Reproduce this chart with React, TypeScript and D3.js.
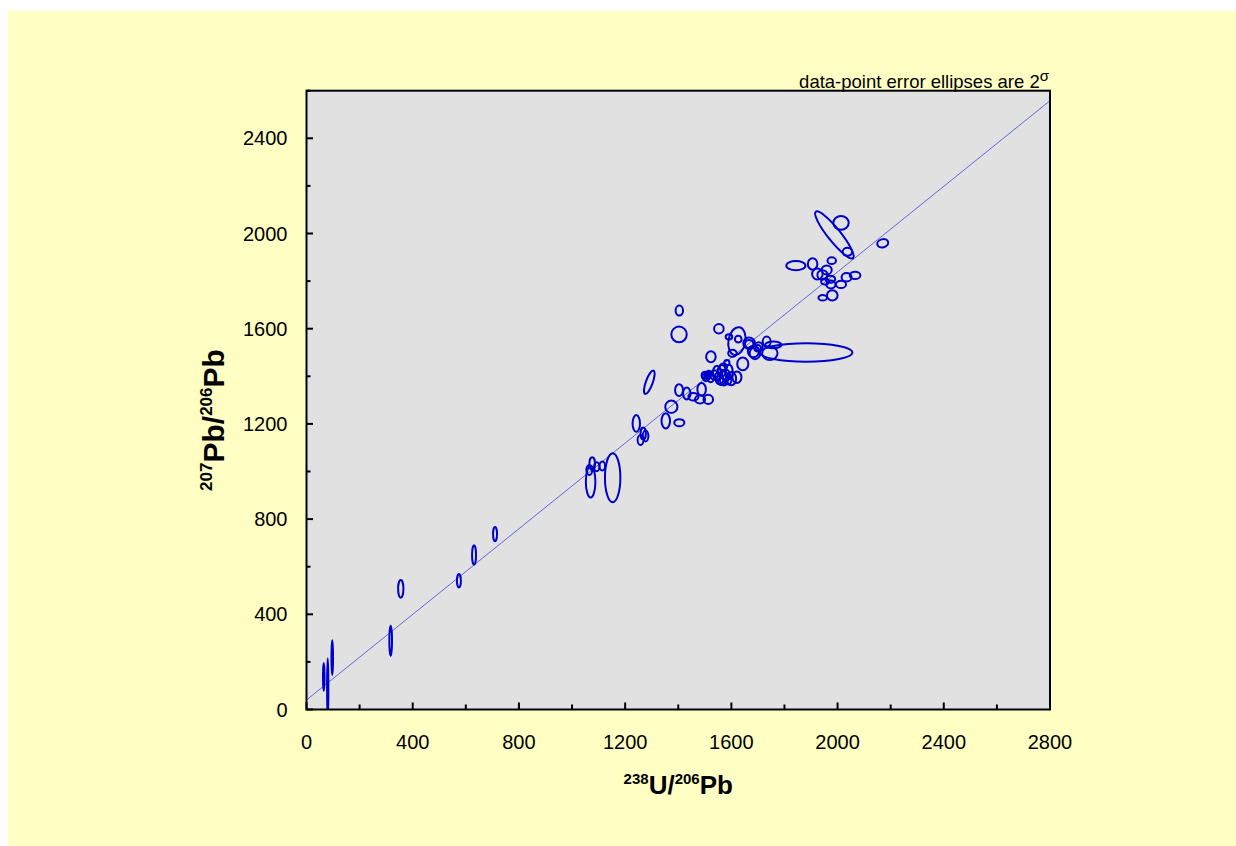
import React, { useEffect } from "react";
import * as d3 from "d3";

// axis ranges and ticks
const xDomain = [0, 2800];
const yDomain = [0, 2600];
const xTickValues = d3.range(0, 2801, 200);
const yTickValues = d3.range(0, 2601, 200);

// reference line (data units)
const refLine: [number, number][] = [
  [0, 40],
  [2800, 2558],
];

// error ellipses: [x, y, rx, ry, tilt deg]
const ellipses: [number, number, number, number, number][] = [
  [65, 137, 3, 58, 0],
  [80, 90, 2.5, 125, 0],
  [97, 218, 3, 73, 0],
  [317, 289, 5, 63, 0],
  [355, 507, 10, 37, 0],
  [574, 541, 7.5, 28, 0],
  [631, 649, 7.5, 41, 0],
  [710, 737, 7.5, 30, 0],
  [1153, 974, 29, 103, 0],
  [1070, 957, 18, 66, 0],
  [1076, 1034, 10.5, 26, 0],
  [1065, 1006, 11, 21, 0],
  [1093, 1020, 10, 19, 0],
  [1114, 1023, 10.5, 19, 0],
  [1242, 1202, 14, 35, 0],
  [1268, 1160, 10, 25, 0],
  [1258, 1132, 11, 21, 0],
  [1277, 1149, 10.5, 23, 0],
  [1353, 1213, 16, 32, 0],
  [1374, 1272, 23, 26, 0],
  [1404, 1205, 19, 15, 0],
  [1291, 1375, 13, 52, 20],
  [1404, 1676, 14, 21, 0],
  [1403, 1576, 29, 33, 0],
  [1553, 1600, 18, 20, 0],
  [1621, 1548, 32, 59, 10],
  [1626, 1556, 12.5, 14, 0],
  [1591, 1566, 12.5, 11, 0],
  [1604, 1497, 16, 15, 0],
  [1523, 1482, 18, 23, 0],
  [1643, 1452, 21, 27, 0],
  [1621, 1396, 17, 24, 0],
  [1505, 1398, 13, 19, 0],
  [1522, 1397, 13, 22, 0],
  [1545, 1413, 15, 31, 0],
  [1564, 1423, 15, 25, 0],
  [1572, 1392, 16, 31, 0],
  [1591, 1419, 14, 31, 0],
  [1600, 1390, 18, 28, 0],
  [1570, 1440, 14, 14, 0],
  [1583, 1457, 10, 12, 0],
  [1535, 1405, 14, 20, 0],
  [1555, 1385, 14, 18, 0],
  [1580, 1405, 15, 22, 0],
  [1500, 1405, 12, 14, 0],
  [1510, 1400, 10, 12, 0],
  [1497, 1400, 8, 10, 0],
  [1515, 1410, 9, 13, 0],
  [1550, 1400, 11, 16, 0],
  [1562, 1378, 12, 15, 0],
  [1588, 1382, 12, 16, 0],
  [1403, 1342, 15, 25, 0],
  [1432, 1328, 14, 25, 0],
  [1457, 1314, 19, 16, 0],
  [1482, 1303, 19, 17, 0],
  [1513, 1303, 18, 19, 0],
  [1488, 1345, 16, 27, 0],
  [1667, 1539, 22, 24, 0],
  [1689, 1497, 20, 25, 0],
  [1703, 1525, 15, 18, 0],
  [1733, 1546, 15, 21, 0],
  [1758, 1532, 31, 14, 0],
  [1745, 1497, 29, 28, 0],
  [1882, 1500, 174, 39, 0],
  [1667, 1536, 16, 17, 0],
  [1683, 1504, 21, 24, 0],
  [1699, 1518, 13, 14, 0],
  [1988, 1994, 24, 125, -38.7],
  [2013, 2045, 29, 29, 0],
  [2037, 1923, 18, 17, 0],
  [2170, 1959, 21, 17, -15],
  [1978, 1886, 16, 14, 0],
  [1843, 1865, 36, 19, 0],
  [1906, 1872, 18, 24, 0],
  [1924, 1830, 20, 23, 0],
  [1959, 1847, 19, 19, 0],
  [1943, 1826, 19, 20, 0],
  [1973, 1808, 18, 15, 0],
  [1953, 1798, 15, 13, 0],
  [1975, 1786, 17, 17, 0],
  [2013, 1786, 19, 15, 0],
  [2034, 1816, 19, 18, 0],
  [2066, 1824, 20, 15, 0],
  [1944, 1730, 16, 12, 0],
  [1980, 1740, 20, 22, 0],
];

const W = 1260;
const H = 870;
const plot = { left: 306.5, right: 1050, top: 90.7, bottom: 709.5 };
const font = "Arial, 'Liberation Sans', sans-serif";

const App = () => {
  useEffect(() => {
    document.documentElement.style.overflow = "hidden";
    document.body.style.overflow = "hidden";
  }, []);

  const x = d3.scaleLinear().domain(xDomain).range([plot.left, plot.right]);
  const y = d3.scaleLinear().domain(yDomain).range([plot.bottom, plot.top]);
  const line = d3
    .line<[number, number]>()
    .x((d) => x(d[0]))
    .y((d) => y(d[1]));

  return (
    <svg
      width={W}
      height={H}
      style={{ position: "absolute", left: 0, top: 0, display: "block" }}
      fontFamily={font}
    >
      <defs>
        <clipPath id="plotClip">
          <rect x={plot.left} y={plot.top} width={plot.right - plot.left} height={plot.bottom - plot.top} />
        </clipPath>
      </defs>
      <rect x={8} y={11} width={W - 8} height={H - 11} fill="#FFFFC3" />
      <rect x={plot.left} y={plot.top} width={plot.right - plot.left} height={plot.bottom - plot.top} fill="#E1E1E1" />

      <g clipPath="url(#plotClip)">
        <path d={line(refLine) || ""} stroke="#4444dd" strokeWidth={0.8} fill="none" />
        {ellipses.map(([cx, cy, rx, ry, a], i) => (
          <ellipse
            key={i}
            transform={`translate(${x(cx)},${y(cy)}) rotate(${a})`}
            rx={x(cx + rx) - x(cx)}
            ry={y(cy) - y(cy + ry)}
            fill="none"
            stroke="#0000cc"
            strokeWidth={2}
          />
        ))}
      </g>

      {/* ticks */}
      {xTickValues.map((v) => (
        <line key={"xt" + v} x1={x(v)} x2={x(v)} y1={plot.bottom} y2={plot.bottom - (v % 400 === 0 ? 7 : 5)} stroke="#000" strokeWidth={2} />
      ))}
      {yTickValues.map((v) => (
        <line key={"yt" + v} x1={plot.left} x2={plot.left + (v % 400 === 0 ? 6.5 : 4)} y1={y(v)} y2={y(v)} stroke="#000" strokeWidth={2} />
      ))}
      <rect x={plot.left} y={plot.top} width={plot.right - plot.left} height={plot.bottom - plot.top} fill="none" stroke="#000" strokeWidth={2} />

      {/* tick labels */}
      {xTickValues.filter((v) => v % 400 === 0).map((v) => (
        <text key={"xl" + v} x={x(v)} y={749} textAnchor="middle" fontSize={20}>
          {v}
        </text>
      ))}
      {yTickValues.filter((v) => v % 400 === 0).map((v) => (
        <text key={"yl" + v} x={plot.left - 19} y={y(v) + 7} textAnchor="end" fontSize={20}>
          {v}
        </text>
      ))}

      {/* axis titles */}
      <text x={(plot.left + plot.right) / 2} y={794} textAnchor="middle" fontWeight="bold" fontSize={26}>
        <tspan fontSize={15} dy={-10}>238</tspan>
        <tspan dy={10}>U/</tspan>
        <tspan fontSize={15} dy={-10}>206</tspan>
        <tspan dy={10}>Pb</tspan>
      </text>
      <text
        transform={`translate(224,420) rotate(-90)`}
        textAnchor="middle"
        fontWeight="bold"
        fontSize={30}
      >
        <tspan fontSize={17} dy={-12}>207</tspan>
        <tspan dy={12}>Pb/</tspan>
        <tspan fontSize={17} dy={-12}>206</tspan>
        <tspan dy={12}>Pb</tspan>
      </text>

      {/* note */}
      <text x={plot.right - 1} y={88} textAnchor="end" fontSize={18.5}>
        data-point error ellipses are 2
        <tspan fontSize={15} dy={-7}>σ</tspan>
      </text>
    </svg>
  );
};

export default App;
